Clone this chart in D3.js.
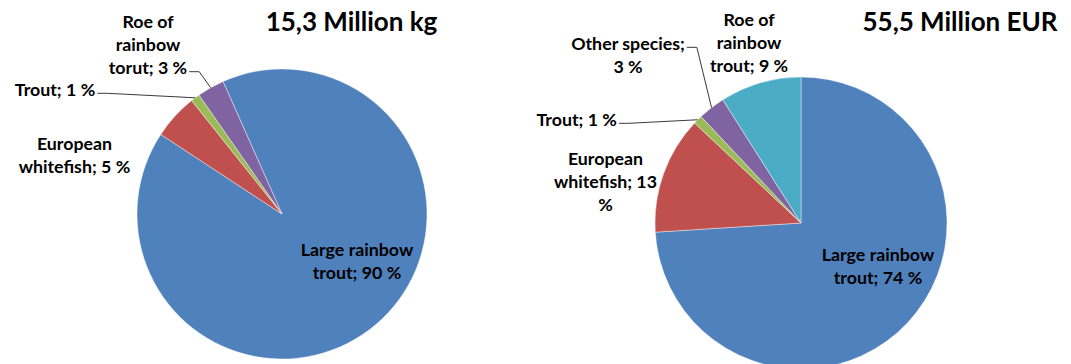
<!DOCTYPE html>
<html><head><meta charset="utf-8">
<script src="https://cdn.jsdelivr.net/npm/d3@7"></script>
<style>html,body{margin:0;padding:0;background:#fff;} svg{display:block;}</style>
</head><body>
<svg id="chart" width="1071" height="364"></svg>
<script>
// ---- data ----
const categoriesKg = ["Large rainbow trout", "European whitefish", "Trout", "Roe of rainbow torut"];
const valuesKg = [90, 5, 1, 3];
const titleKg = "15,3 Million kg";

const categoriesEur = ["Large rainbow trout", "European whitefish", "Trout", "Other species", "Roe of rainbow trout"];
const valuesEur = [74, 13, 1, 3, 9];
const titleEur = "55,5 Million EUR";

const colorsKg = ["#4F81BD", "#C0504D", "#9BBB59", "#8064A2"];
const colorsEur = ["#4F81BD", "#C0504D", "#9BBB59", "#8064A2", "#4BACC6"];

// ---- layout ----
const LINE_H = 23;
const pies = [
  { cats: categoriesKg, vals: valuesKg, colors: colorsKg, title: titleKg,
    cx: 282, cy: 214, r: 145, rotation: -24, titleX: 351.5, titleY: 31,
    labels: [
      { x: 357, y: 250, breaks: [2] },
      { x: 74.5, y: 144, breaks: [1] },
      { x: 55, y: 89.3, breaks: [], leader: 0 },
      { x: 148, y: 21.7, breaks: [2, 3], leader: 2 }
    ] },
  { cats: categoriesEur, vals: valuesEur, colors: colorsEur, title: titleEur,
    cx: 801, cy: 223, r: 146, rotation: 0, titleX: 960, titleY: 31,
    labels: [
      { x: 878, y: 255, breaks: [2] },
      { x: 605.5, y: 158.5, breaks: [1, 3] },
      { x: 576.7, y: 119.3, breaks: [], leader: 0 },
      { x: 628, y: 43.3, breaks: [2], leader: 0 },
      { x: 749, y: 19.7, breaks: [2, 3] }
    ] }
];

const FONT = "Lato, 'Open Sans', 'DejaVu Sans', sans-serif";
const svg = d3.select("#chart");
svg.append("rect").attr("width", 1071).attr("height", 364).attr("fill", "#fff");

pies.forEach(p => {
  const g = svg.append("g");
  const pie = d3.pie().sort(null).value(d => d)
    .startAngle(p.rotation * Math.PI / 180)
    .endAngle(p.rotation * Math.PI / 180 + 2 * Math.PI);
  const arcs = pie(p.vals);
  const arc = d3.arc().innerRadius(0).outerRadius(p.r);
  const edge = d3.arc().innerRadius(p.r).outerRadius(p.r);
  const color = d3.scaleOrdinal().domain(p.cats).range(p.colors);

  const pg = g.append("g").attr("transform", `translate(${p.cx},${p.cy})`);
  pg.selectAll("path").data(arcs).join("path")
    .attr("d", arc)
    .attr("fill", (d, i) => color(p.cats[i]))
    .attr("stroke", "#ffffff").attr("stroke-width", 0.7).attr("stroke-opacity", 0.6);

  // title
  g.append("text").attr("x", p.titleX).attr("y", p.titleY)
    .attr("text-anchor", "middle").attr("font-family", FONT)
    .attr("font-weight", "bold").attr("font-size", 26).attr("fill", "#000")
    .text(p.title);

  // labels
  arcs.forEach((d, i) => {
    const L = p.labels[i];
    const full = `${p.cats[i]}; ${p.vals[i]} %`;
    const words = full.split(" ");
    const cuts = [0, ...L.breaks, words.length];
    const lines = [];
    for (let k = 0; k < cuts.length - 1; k++) lines.push(words.slice(cuts[k], cuts[k + 1]).join(" "));
    const texts = lines.map((ln, k) =>
      g.append("text").attr("x", L.x).attr("y", L.y + k * LINE_H).attr("dy", "0.36em")
        .attr("text-anchor", "middle").attr("font-family", FONT)
        .attr("font-weight", "bold").attr("font-size", 17.8).attr("fill", "#000")
        .text(ln));
    if (L.leader !== undefined) {
      const t = texts[L.leader];
      const w = t.node().getComputedTextLength();
      const sx = L.x + w / 2 + 2;
      const sy = L.y + L.leader * LINE_H + 4;
      const [ex, ey] = edge.centroid(d);
      g.append("path")
        .attr("d", d3.line()([[sx, sy], [sx + 10, sy], [p.cx + ex, p.cy + ey]]))
        .attr("fill", "none").attr("stroke", "#3a3a3a").attr("stroke-width", 1);
    }
  });
});
</script>
</body></html>
